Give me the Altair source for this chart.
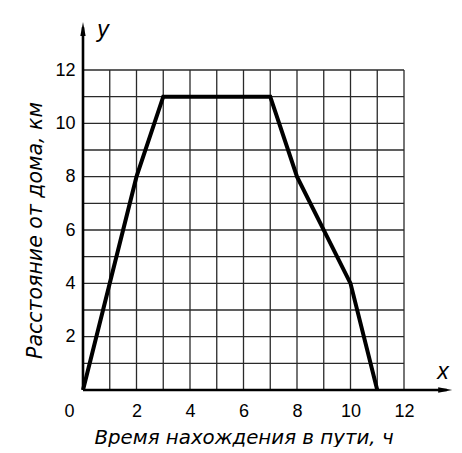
import altair as alt
import pandas as pd

# Data
time_h = [0, 1, 2, 3, 7, 8, 10, 11]
dist_km = [0, 4, 8, 11, 11, 8, 4, 0]

grid_vals = list(range(0, 13))
x_tick_labels = [0, 2, 4, 6, 8, 10, 12]
y_tick_labels = [2, 4, 6, 8, 10, 12]

AXIS_END = 13.8      # arrow tips (data units)
ARROW_C = 13.54      # arrow head centres
LINE_END = 13.6

FONT = "Liberation Sans"
TFONT = "DejaVu Sans"

xscale = alt.Scale(domain=[0, 12], nice=False, zero=True)
yscale = alt.Scale(domain=[0, 12], nice=False, zero=True)

X = alt.X(
    "x:Q",
    scale=xscale,
    axis=alt.Axis(
        values=x_tick_labels,
        grid=False,
        domain=False,
        ticks=False,
        labelFlush=False,
        labelFont=FONT,
        labelFontSize=18,
        labelColor="black",
        labelPadding=12,
        labelOffset={"condition": {"test": "datum.value === 0", "value": -14}, "value": 0},
        title="Время нахождения в пути, ч",
        titleFont=TFONT,
        titleFontSize=19.8,
        titleFontStyle="italic",
        titleFontWeight="normal",
        titleColor="black",
        titlePadding=7,
    ),
)
Y = alt.Y(
    "y:Q",
    scale=yscale,
    axis=alt.Axis(
        values=y_tick_labels,
        grid=False,
        domain=False,
        ticks=False,
        labelFlush=False,
        labelFont=FONT,
        labelFontSize=18,
        labelColor="black",
        labelPadding=8,
        title="Расстояние от дома, км",
        titleFont=TFONT,
        titleFontSize=20.5,
        titleFontStyle="italic",
        titleFontWeight="normal",
        titleColor="black",
        titlePadding=9,
    ),
)

vgrid = pd.DataFrame({"x": grid_vals, "y": [0] * 13, "y2": [12] * 13})
hgrid = pd.DataFrame({"y": grid_vals, "x": [0] * 13, "x2": [12] * 13})

grid_v = alt.Chart(vgrid).mark_rule(color="#2a2a2a", strokeWidth=1.3).encode(x=X, y=Y, y2="y2:Q")
grid_h = alt.Chart(hgrid).mark_rule(color="#2a2a2a", strokeWidth=1.3).encode(y=Y, x=X, x2="x2:Q")

xaxis_df = pd.DataFrame({"x": [0], "y": [0], "x2": [LINE_END]})
yaxis_df = pd.DataFrame({"x": [0], "y": [0], "y2": [LINE_END]})
ax_x = alt.Chart(xaxis_df).mark_rule(color="black", strokeWidth=2.6).encode(x=X, y=Y, x2="x2:Q")
ax_y = alt.Chart(yaxis_df).mark_rule(color="black", strokeWidth=2.6).encode(x=X, y=Y, y2="y2:Q")

arrow_x = alt.Chart(pd.DataFrame({"x": [ARROW_C], "y": [0]})).mark_point(
    shape="M -1 -0.38 L 1 0 L -1 0.38 Z", size=196, filled=True, color="black", opacity=1
).encode(x=X, y=Y)
arrow_y = alt.Chart(pd.DataFrame({"x": [0], "y": [ARROW_C]})).mark_point(
    shape="M -0.38 1 L 0 -1 L 0.38 1 Z", size=196, filled=True, color="black", opacity=1
).encode(x=X, y=Y)

letters = alt.Chart(pd.DataFrame({"x": [13.46, 0.75], "y": [0.67, 13.5], "t": ["x", "y"]})).mark_text(
    font=FONT, fontSize=23, fontStyle="italic", color="black", align="center", baseline="middle"
).encode(x=X, y=Y, text="t:N")

df = pd.DataFrame({"x": time_h, "y": dist_km})
line = alt.Chart(df).mark_line(color="black", strokeWidth=4, strokeJoin="miter").encode(x=X, y=Y)

chart = alt.layer(grid_v, grid_h, ax_x, ax_y, line, arrow_x, arrow_y, letters).properties(
    width=321,
    height=320,
    autosize=alt.AutoSizeParams(type="none"),
    padding={"left": 75, "top": 62, "right": 50, "bottom": 57},
    background="white",
).configure_view(stroke=None)

chart.save("out.html", embed_options={"renderer": "svg", "actions": False})
